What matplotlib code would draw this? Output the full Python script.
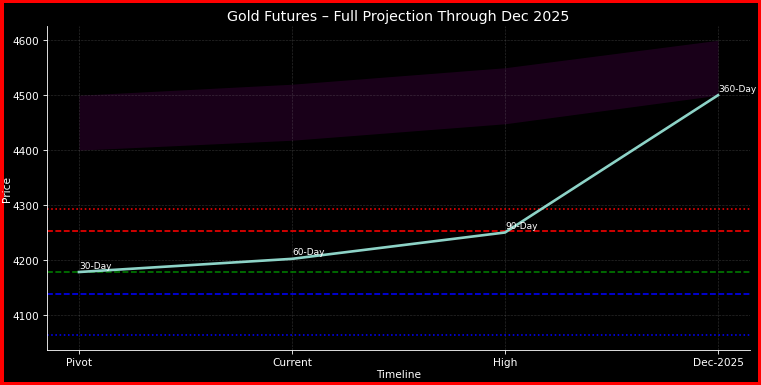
import matplotlib
matplotlib.use("Agg")
import matplotlib.pyplot as plt

categories = ["Pivot", "Current", "High", "Dec-2025"]
projection = [4178, 4202, 4250, 4500]
point_labels = ["30-Day", "60-Day", "90-Day", "360-Day"]
band_low = [4400, 4418, 4448, 4500]
band_high = [4500, 4520, 4550, 4600]

levels = [4293, 4253, 4178, 4138, 4063]
level_colors = ["red", "red", "green", "blue", "blue"]
level_styles = [":", "--", "--", "--", ":"]

plt.style.use("dark_background")
dpi = 76
fig = plt.figure(figsize=(761 / dpi, 386 / dpi), dpi=dpi)
fig.patch.set_facecolor("black")
fig.patch.set_edgecolor("red")
fig.patch.set_linewidth(5)
ax = fig.add_axes([0.0618, 0.0907, 0.9237, 0.8393])
ax.set_facecolor("black")

x = list(range(len(categories)))
ax.fill_between(x, band_low, band_high, color="purple", alpha=0.2, linewidth=0)
for lv, c, ls in zip(levels, level_colors, level_styles):
    ax.axhline(lv, color=c, linestyle=ls, linewidth=1.5)
ax.plot(x, projection, color="#8dd3c7", linewidth=2.5)
for i, (v, lab) in enumerate(zip(projection, point_labels)):
    ax.text(i, v + 8, lab, fontsize=8.5, color="white", ha="left", va="baseline")

ax.set_xticks(x)
ax.set_xticklabels(categories)
ax.set_xlim(-0.15, 3.15)
ax.set_ylim(4036, 4626)
ax.set_yticks([4100, 4200, 4300, 4400, 4500, 4600])
ax.tick_params(labelsize=10)
ax.grid(True, linestyle="--", color="gray", alpha=0.35, linewidth=0.6)
ax.spines["top"].set_visible(False)
ax.spines["right"].set_visible(False)
ax.set_title("Gold Futures – Full Projection Through Dec 2025", fontsize=13.5)
ax.set_xlabel("Timeline", fontsize=10, labelpad=2)
ax.set_ylabel("Price", fontsize=10, labelpad=1)

fig.savefig("out.png", dpi=dpi, facecolor="black", edgecolor="red")
